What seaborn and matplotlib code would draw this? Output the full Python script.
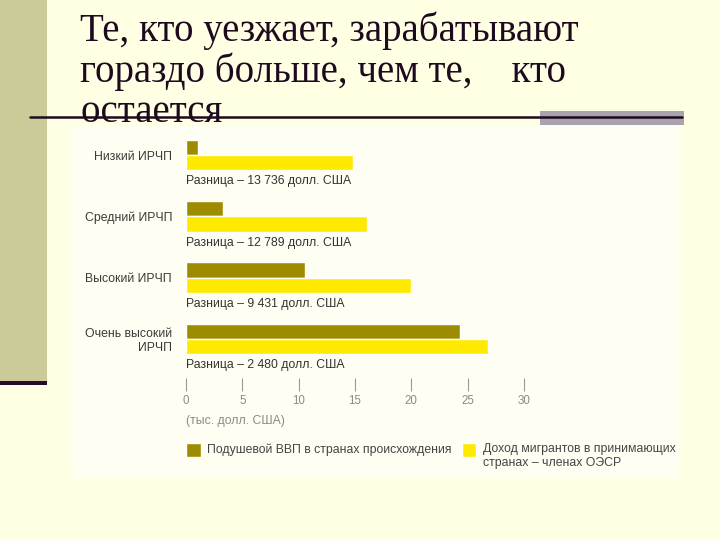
import pandas as pd
import matplotlib
matplotlib.use('Agg')
import matplotlib.pyplot as plt
import matplotlib.patches as mpatches
import seaborn as sns

# data (thousand USD)
categories = ['Низкий ИРЧП', 'Средний ИРЧП', 'Высокий ИРЧП', 'Очень высокий\nИРЧП']
gdp_origin = [1.1, 3.3, 10.6, 24.3]
migrant_income = [14.8, 16.1, 20.0, 26.8]
diff_labels = ['Разница – 13 736 долл. США', 'Разница – 12 789 долл. США',
               'Разница – 9 431 долл. США', 'Разница – 2 480 долл. США']
series_names = ['Подушевой ВВП в странах происхождения',
                'Доход мигрантов в принимающих\nстранах – членах ОЭСР']
xticks = [0, 5, 10, 15, 20, 25, 30]

df = pd.DataFrame({
    'cat': categories * 2,
    'value': gdp_origin + migrant_income,
    'series': [series_names[0]] * 4 + [series_names[1]] * 4,
})

sns.set_theme(style='white')
plt.rcParams['font.family'] = ['Liberation Sans', 'DejaVu Sans']

W, H = 720, 540
fig = plt.figure(figsize=(7.2, 5.4), dpi=100)
fig.patch.set_facecolor('#FFFFE3')

def px_rect(x0, y0, x1, y1, **kw):
    # rectangle given in pixel coords from top-left
    r = mpatches.Rectangle((x0 / W, 1 - y1 / H), (x1 - x0) / W, (y1 - y0) / H,
                           transform=fig.transFigure, **kw)
    fig.patches.append(r)

# slide decoration
px_rect(0, 0, 47, 381, facecolor='#CBCB99', edgecolor='none', zorder=0)
px_rect(0, 381, 47, 385, facecolor='#2A0A2A', edgecolor='none', zorder=1)
px_rect(72, 126, 679, 478, facecolor='#FFFEF2', edgecolor='none', zorder=0)
px_rect(540, 111, 684, 125, facecolor='#A9A3B0', edgecolor='none', zorder=1)
fig.add_artist(plt.Line2D([30 / W, 682 / W], [1 - 117 / H, 1 - 117 / H],
                          transform=fig.transFigure, color='#1E0A1E', lw=1.8, zorder=3))

fig.text(80 / W, 1 - 11 / H,
         'Те, кто уезжает, зарабатывают\nгораздо больше, чем те,    кто\nостается',
         family=['Liberation Serif', 'DejaVu Serif'], fontsize=28, color='#1E0A1E',
         va='top', ha='left', linespacing=1.1, zorder=2)

# chart axes: x=0 at px 186, x=30 at px 524; rows centred at 155..339 px
ax = fig.add_axes([186 / W, 1 - 378 / H, (524 - 186) / W, (378 - 130) / H])
ax.set_zorder(5)
ax.set_facecolor('none')
sns.barplot(data=df, x='value', y='cat', hue='series', orient='h',
            palette=['#9E8C00', '#FFE900'], width=0.5, dodge=True,
            saturation=1, ax=ax, legend=True)
ax.set_xlim(0, 30)
ax.set_ylim(3.64, -0.41)
for s in ax.spines.values():
    s.set_visible(False)
ax.set_xlabel('')
ax.set_ylabel('')
ax.set_xticks(xticks)
ax.tick_params(axis='x', bottom=True, direction='out', length=9, width=0.8,
               color='#999999', labelcolor='#8A8A8A', labelsize=8.3, pad=3)
ax.tick_params(axis='y', left=False, labelsize=8.8, labelcolor='#3A3A3A', pad=4)
for lbl in ax.get_yticklabels():
    lbl.set_horizontalalignment('right')
    lbl.set_multialignment('right')

for i, t in enumerate(diff_labels):
    ax.text(0, i + 0.43, t, fontsize=8.8, color='#333333', va='center', ha='left')

fig.text(186 / W, 1 - 421 / H, '(тыс. долл. США)', fontsize=8.8, color='#8A8A8A',
         va='center', ha='left', zorder=6)

handles, labels = ax.get_legend_handles_labels()
ax.get_legend().remove()
leg = fig.legend(handles, labels, loc='upper left', bbox_to_anchor=(186 / W, 1 - 443 / H),
                 ncol=2, frameon=False, fontsize=8.8, handlelength=1.2, handleheight=1.4,
                 handletextpad=0.55, columnspacing=0.8, labelcolor='#444444',
                 borderpad=0, borderaxespad=0)
# put the swatches level with the first text line
leg._legend_handle_box.align = 'top'
for col in leg._legend_handle_box.get_children():
    col.align = 'left'
    for item in col.get_children():
        item.align = 'top'
leg.set_zorder(6)

fig.savefig('out.png', dpi=100, facecolor=fig.get_facecolor())
